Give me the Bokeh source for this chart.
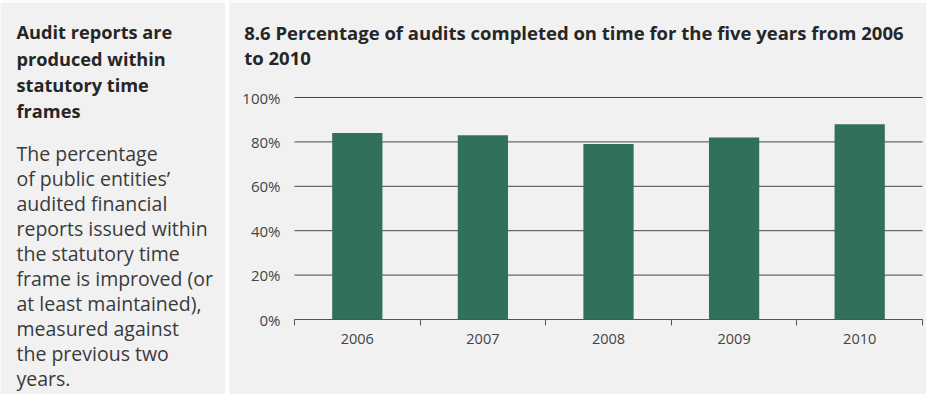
from bokeh.plotting import figure
from bokeh.models import Range1d, FixedTicker, PrintfTickFormatter, Label, BoxAnnotation
from bokeh.layouts import row
from bokeh.embed import file_html
from bokeh.resources import INLINE

# ---- data ----
years = ["2006", "2007", "2008", "2009", "2010"]
pct_on_time = [84, 83, 79, 82, 88]
y_ticks = [0, 20, 40, 60, 80, 100]
title_lines = [
    "8.6 Percentage of audits completed on time for the five years from 2006",
    "to 2010",
]
side_heading = ["Audit reports are", "produced within", "statutory time", "frames"]
side_body = [
    "The percentage",
    "of public entities\u2019",
    "audited financial",
    "reports issued within",
    "the statutory time",
    "frame is improved (or",
    "at least maintained),",
    "measured against",
    "the previous two",
    "years.",
]

# ---- styles / layout ----
BG = "#f1f1f1"
BAR = "#31705a"
FONT = "Open Sans"
H = 394
GAP = 4
W_LEFT = 225
W_RIGHT = 926 - W_LEFT - GAP
X0_RIGHT = W_LEFT + GAP
# chart area inside the right canvas (pixels)
CH_L, CH_R, CH_T, CH_B = 294 - X0_RIGHT, 922 - X0_RIGHT, 97, 319


def top_strip(fig):
    fig.add_layout(BoxAnnotation(bottom=H - 2, top=H, bottom_units="screen", top_units="screen",
                                 fill_color="white", fill_alpha=1, line_color=None))


# ---- left text panel ----
left = figure(width=W_LEFT, height=H, x_range=Range1d(0, 1), y_range=Range1d(0, 1),
              output_backend="svg", toolbar_location=None, min_border=0,
              x_axis_location=None, y_axis_location=None)
left.grid.visible = False
left.outline_line_color = None
left.background_fill_color = BG
left.border_fill_color = BG
top_strip(left)

for i, line in enumerate(side_heading):
    left.add_layout(Label(x=16, y=H - (31.7 + 26.3 * i),
                          x_units="screen", y_units="screen", text=line,
                          text_font=FONT, text_font_style="bold", text_font_size="18.2px",
                          text_color="#262626", text_baseline="alphabetic"))
for i, line in enumerate(side_body):
    left.add_layout(Label(x=16, y=H - (153 + 25.0 * i),
                          x_units="screen", y_units="screen", text=line,
                          text_font=FONT, text_font_size="19.5px",
                          text_color="#3a3a3a", text_baseline="alphabetic"))

# ---- chart ----
n = len(years)
centers = [i + 0.5 for i in range(n)]
ppx = (CH_R - CH_L) / n
ppy = (CH_B - CH_T) / y_ticks[-1]
p = figure(width=W_RIGHT, height=H,
           x_range=Range1d(-CH_L / ppx, n + (W_RIGHT - CH_R) / ppx),
           y_range=Range1d(-(H - CH_B) / ppy, y_ticks[-1] + CH_T / ppy),
           output_backend="svg", toolbar_location=None, min_border=0)
p.background_fill_color = BG
p.border_fill_color = BG
p.outline_line_color = None
p.grid.visible = False
top_strip(p)

# horizontal gridlines across the category span
p.segment(x0=[0] * len(y_ticks), x1=[n] * len(y_ticks), y0=y_ticks, y1=y_ticks,
          line_color="#474747", line_width=1)

p.vbar(x=centers, top=pct_on_time, width=0.4, fill_color=BAR, line_color=None)

p.yaxis.fixed_location = 0
p.yaxis.bounds = (y_ticks[0], y_ticks[-1])
p.yaxis.ticker = FixedTicker(ticks=y_ticks)
p.yaxis.formatter = PrintfTickFormatter(format="%d%%")
p.yaxis.axis_line_color = None
p.yaxis.major_tick_line_color = None
p.yaxis.minor_tick_line_color = None
p.yaxis.major_tick_out = 0
p.yaxis.major_tick_in = 0
p.yaxis.major_label_standoff = 14
p.yaxis.major_label_text_font = FONT
p.yaxis.major_label_text_font_size = "15px"
p.yaxis.major_label_text_color = "#444444"

p.xaxis.fixed_location = 0
p.xaxis.bounds = (0, n)
p.xaxis.ticker = FixedTicker(ticks=centers, minor_ticks=list(range(n + 1)))
p.xaxis.major_label_overrides = {c: y for c, y in zip(centers, years)}
p.xaxis.axis_line_color = "#555555"
p.xaxis.major_tick_line_color = None
p.xaxis.major_tick_out = 0
p.xaxis.major_tick_in = 0
p.xaxis.minor_tick_line_color = "#555555"
p.xaxis.minor_tick_out = 6
p.xaxis.minor_tick_in = 0
p.xaxis.major_label_standoff = 8
p.xaxis.major_label_text_font = FONT
p.xaxis.major_label_text_font_size = "14.5px"
p.xaxis.major_label_text_color = "#444444"

for i, line in enumerate(title_lines):
    p.add_layout(Label(x=243.7 - X0_RIGHT, y=H - (31.7 + 25.6 * i),
                       x_units="screen", y_units="screen",
                       text=line, text_font=FONT, text_font_style="bold",
                       text_font_size="18.5px", text_color="#262626",
                       text_baseline="alphabetic"))

layout = row(left, p, spacing=GAP)
open("out.html", "w").write(file_html(layout, INLINE))
